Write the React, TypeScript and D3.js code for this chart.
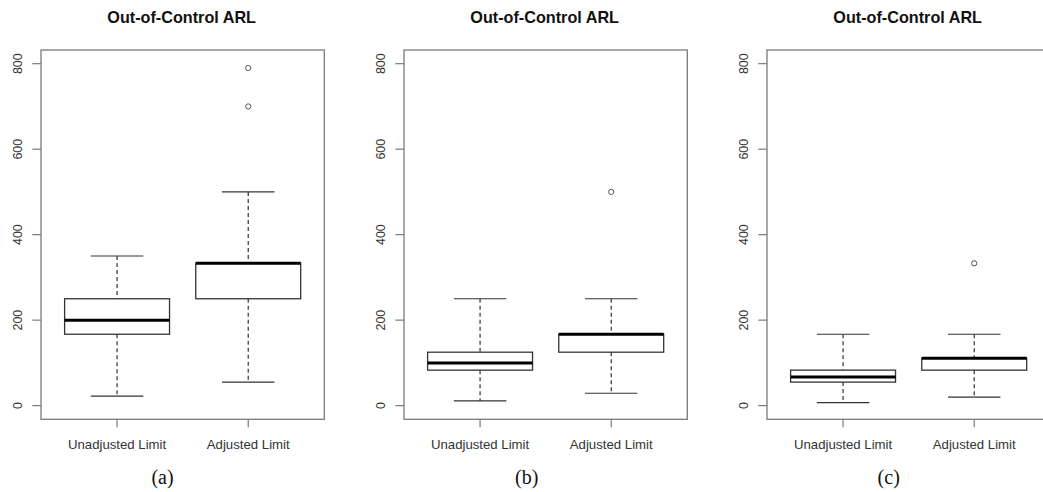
import React from "react";
import * as d3 from "d3";

const categories = ["Unadjusted Limit", "Adjusted Limit"];
const panelTitles = ["Out-of-Control ARL", "Out-of-Control ARL", "Out-of-Control ARL"];
const panelLabels = ["(a)", "(b)", "(c)"];
const yTicks = [0, 200, 400, 600, 800];

// [lower whisker, Q1, median, Q3, upper whisker]
const panelAUnadjusted = [22, 167, 200, 250, 350];
const panelAAdjusted = [55, 250, 333, 333, 500];
const panelAOutliersUnadjusted: number[] = [];
const panelAOutliersAdjusted = [700, 790];

const panelBUnadjusted = [11, 83, 100, 125, 250];
const panelBAdjusted = [29, 125, 167, 167, 250];
const panelBOutliersUnadjusted: number[] = [];
const panelBOutliersAdjusted = [500];

const panelCUnadjusted = [7, 55, 67, 83, 167];
const panelCAdjusted = [20, 83, 111, 111, 167];
const panelCOutliersUnadjusted: number[] = [];
const panelCOutliersAdjusted = [333];

const panels = [
  { stats: [panelAUnadjusted, panelAAdjusted], outliers: [panelAOutliersUnadjusted, panelAOutliersAdjusted] },
  { stats: [panelBUnadjusted, panelBAdjusted], outliers: [panelBOutliersUnadjusted, panelBOutliersAdjusted] },
  { stats: [panelCUnadjusted, panelCAdjusted], outliers: [panelCOutliersUnadjusted, panelCOutliersAdjusted] },
];

const W = 1043;
const H = 492;
const panelLefts = [41, 404, 767];
const plotW = 283.3;
const plotTop = 50;
const plotBottom = 419.3;

const FRAME = "#7a7a7a";
const LINE = "#333";

function Panel({ idx }: { idx: number }) {
  const left = panelLefts[idx];
  const x = d3.scaleLinear().domain([0.42, 2.58]).range([left, left + plotW]);
  const y = d3.scaleLinear().domain([-32, 832]).range([plotBottom, plotTop]);
  const unit = x(1) - x(0);
  const boxW = 0.8 * unit;
  const capW = boxW / 2;
  const p = panels[idx];
  const cx = (left + left + plotW) / 2;
  return (
    <g>
      <text x={cx - 1} y={23} textAnchor="middle" fontFamily="'Liberation Sans', Arial, sans-serif" fontWeight="bold" fontSize={16.2} fill="#111">
        {panelTitles[idx]}
      </text>
      {/* frame */}
      <rect x={left} y={plotTop} width={plotW} height={plotBottom - plotTop} fill="none" stroke={FRAME} strokeWidth={1.3} />
      {/* y axis ticks */}
      {yTicks.map((t) => (
        <g key={t}>
          <line x1={left - 8.7} x2={left} y1={y(t)} y2={y(t)} stroke={FRAME} strokeWidth={1.2} />
          <text
            transform={`translate(${left - 18.7},${y(t)}) rotate(-90)`}
            textAnchor="middle"
            fontFamily="'Liberation Sans', Arial, sans-serif"
            fontSize={12.5}
            fill="#333"
          >
            {t}
          </text>
        </g>
      ))}
      {/* x axis ticks */}
      {categories.map((c, i) => (
        <g key={c}>
          <line x1={x(i + 1)} x2={x(i + 1)} y1={plotBottom} y2={plotBottom + 8} stroke={FRAME} strokeWidth={1.2} />
          <text x={x(i + 1)} y={449} textAnchor="middle" fontFamily="'Liberation Sans', Arial, sans-serif" fontSize={13.2} fill="#333">
            {c}
          </text>
        </g>
      ))}
      {/* boxes */}
      {p.stats.map((s, i) => {
        const c = x(i + 1);
        const [lo, q1, med, q3, hi] = s;
        return (
          <g key={i}>
            <line x1={c} x2={c} y1={y(hi)} y2={y(q3)} stroke={LINE} strokeWidth={1.2} strokeDasharray="4,3" />
            <line x1={c} x2={c} y1={y(q1)} y2={y(lo)} stroke={LINE} strokeWidth={1.2} strokeDasharray="4,3" />
            <line x1={c - capW / 2} x2={c + capW / 2} y1={y(hi)} y2={y(hi)} stroke={LINE} strokeWidth={1.2} />
            <line x1={c - capW / 2} x2={c + capW / 2} y1={y(lo)} y2={y(lo)} stroke={LINE} strokeWidth={1.2} />
            <rect x={c - boxW / 2} y={y(q3)} width={boxW} height={y(q1) - y(q3)} fill="white" stroke={LINE} strokeWidth={1.3} />
            <line x1={c - boxW / 2} x2={c + boxW / 2} y1={y(med)} y2={y(med)} stroke="#000" strokeWidth={3} />
            {p.outliers[i].map((o, k) => (
              <circle key={k} cx={c} cy={y(o)} r={2.6} fill="none" stroke="#555" strokeWidth={1} />
            ))}
          </g>
        );
      })}
      <text x={[162.5, 526.7, 888.7][idx]} y={484} textAnchor="middle" fontFamily="'Liberation Serif', 'Times New Roman', serif" fontSize={20} fill="#111">
        {panelLabels[idx]}
      </text>
    </g>
  );
}

export default function App() {
  return (
    <svg width={W} height={H} style={{ position: "absolute", left: 0, top: 0, background: "white" }}>
      <rect x={0} y={0} width={W} height={H} fill="white" />
      {[0, 1, 2].map((i) => (
        <Panel key={i} idx={i} />
      ))}
    </svg>
  );
}
